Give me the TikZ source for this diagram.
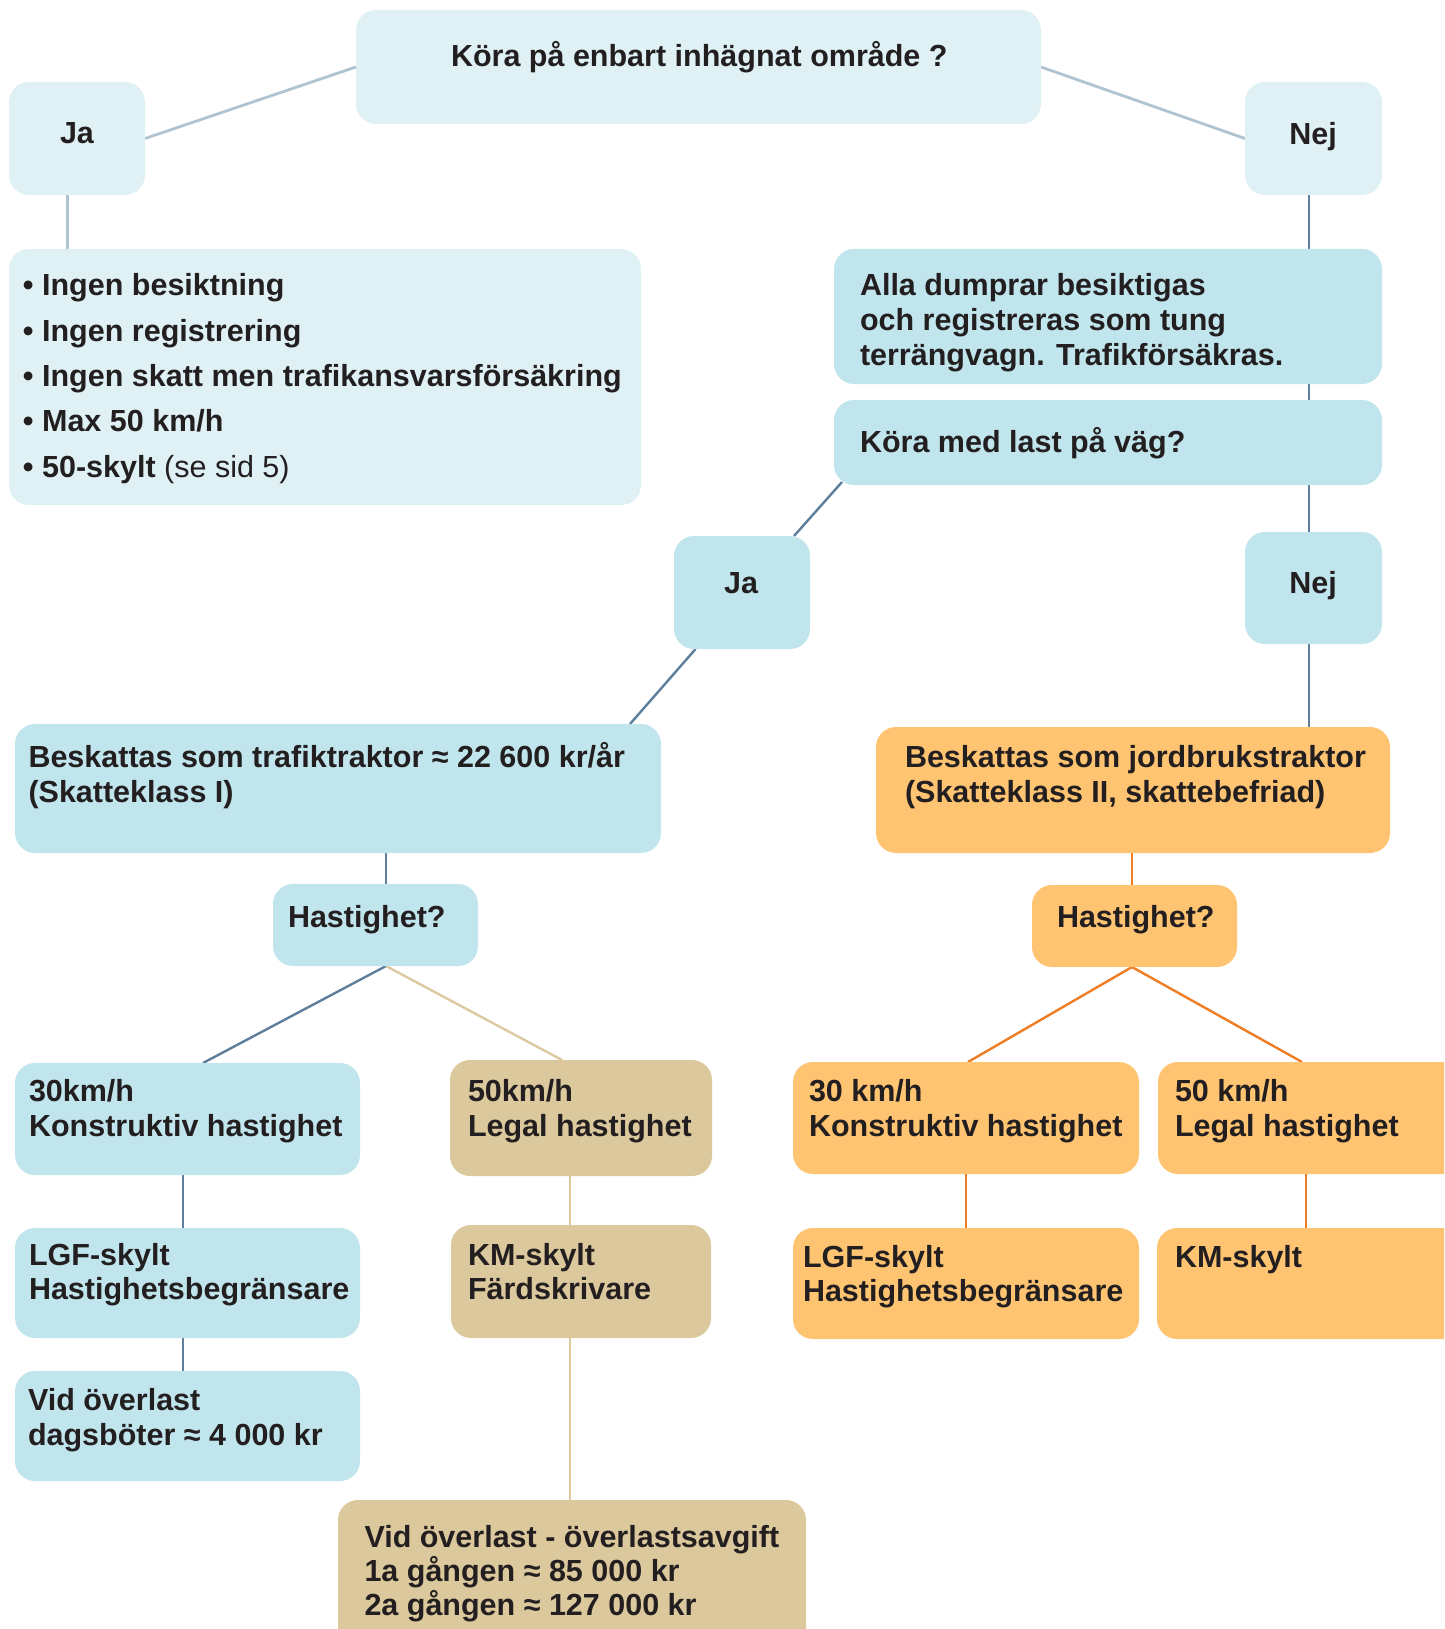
\documentclass[tikz,border=0pt]{standalone}
\usepackage{fontspec}
\setmainfont{Liberation Sans}
\usetikzlibrary{backgrounds,calc}
\definecolor{boxlight}{HTML}{DFF1F5}
\definecolor{boxmid}{HTML}{C1E5EC}
\definecolor{boxor}{HTML}{FEC472}
\definecolor{boxtan}{HTML}{DBC89C}
\definecolor{txtc}{HTML}{231F20}
\definecolor{lnlight}{HTML}{B0C3D0}
\definecolor{lnblue}{HTML}{5D7F9B}
\definecolor{lntan}{HTML}{DCC9A0}
\definecolor{lnor}{HTML}{EE7D24}
\newcommand\mybox[6]{\node[#2, minimum width={#5-#3}, minimum height={#6-#4}, anchor=north west] (#1) at (#3,#4) {};}
\begin{document}
\begin{tikzpicture}[x=1pt,y=-1pt,
  bx/.style={rounded corners=20pt, inner sep=0pt, outer sep=0pt, draw=none, rectangle},
  light/.style={bx, fill=boxlight},
  mid/.style={bx, fill=boxmid},
  orb/.style={bx, fill=boxor},
  tanb/.style={bx, fill=boxtan},
  txt/.style={anchor=base west, inner sep=0pt, outer sep=0pt, text=txtc, font=\fontsize{30.5}{37}\selectfont\bfseries},
  ctxt/.style={txt, anchor=base},
  cl/.style={draw=lnlight, line width=2.8pt},
  cb/.style={draw=lnblue, line width=2.4pt},
  ct/.style={draw=lntan, line width=2.4pt},
  co/.style={draw=lnor, line width=2.4pt}]
\useasboundingbox (0,0) rectangle (1444,1629);
\clip (0,0) rectangle (1444,1629);
% boxes
\mybox{top}{light}{356}{10}{1041}{124}
\mybox{ja1}{light}{9}{82}{145}{195}
\mybox{nej1}{light}{1245}{82}{1382}{195}
\mybox{list}{light}{9}{249}{641}{505}
\mybox{alla}{mid}{834}{249}{1382}{384}
\mybox{kml}{mid}{834}{400}{1382}{485}
\mybox{ja2}{mid}{674}{536}{810}{649}
\mybox{nej2}{mid}{1245}{532}{1382}{644}
\mybox{traf}{mid}{15}{724}{661}{853}
\mybox{jord}{orb}{876}{727}{1390}{853}
\mybox{h1}{mid}{273}{884}{478}{966}
\mybox{h2}{orb}{1032}{885}{1237}{967}
\mybox{b30}{mid}{15}{1063}{360}{1175}
\mybox{b50}{tanb}{450}{1060}{712}{1176}
\mybox{lgf1}{mid}{15}{1228}{360}{1338}
\mybox{km1}{tanb}{451}{1225}{711}{1338}
\mybox{vid1}{mid}{15}{1371}{360}{1481}
\mybox{vid2}{tanb}{338}{1500}{806}{1660}
\mybox{o30}{orb}{793}{1062}{1139}{1174}
\mybox{o50}{orb}{1158}{1062}{1470}{1174}
\mybox{olgf}{orb}{793}{1228}{1139}{1339}
\mybox{okm}{orb}{1157}{1228}{1470}{1339}
% texts
\node[txt] (ttop) at (451,67) {Köra på enbart inhägnat område ?};
\node[ctxt] (tja1) at (77,144) {Ja};
\node[ctxt] (tnej1) at (1313,145) {Nej};
\node[txt] (tl1) at (23,295) {• Ingen besiktning};
\node[txt] (tl2) at (23,341) {• Ingen registrering};
\node[txt] (tl3) at (23,386.5) {• Ingen skatt men trafikansvarsförsäkring};
\node[txt] (tl4) at (23,431.5) {• Max 50 km/h};
\node[txt] (tl5) at (23,477) {• 50-skylt {\mdseries (se sid 5)}};
\node[txt] (ta1) at (860,295) {Alla dumprar besiktigas};
\node[txt] (ta2) at (860,330) {och registreras som tung};
\node[txt] (ta3) at (860,365) {terrängvagn. Trafikförsäkras.};
\node[txt] (tkml) at (860,452) {Köra med last på väg?};
\node[ctxt] (tja2) at (741,593) {Ja};
\node[ctxt] (tnej2) at (1313,593) {Nej};
\node[txt] (ttr1) at (28.5,767) {Beskattas som trafiktraktor ≈ 22 600 kr/år};
\node[txt] (ttr2) at (28.5,802) {(Skatteklass I)};
\node[txt] (tjo1) at (905,767) {Beskattas som jordbrukstraktor};
\node[txt] (tjo2) at (905,802) {(Skatteklass II, skattebefriad)};
\node[txt] (th1) at (288,927) {Hastighet?};
\node[txt] (th2) at (1057,927) {Hastighet?};
\node[txt] (tb30a) at (29,1101.5) {30km/h};
\node[txt] (tb30b) at (29,1136) {Konstruktiv hastighet};
\node[txt] (tb50a) at (468,1101.5) {50km/h};
\node[txt] (tb50b) at (468,1136) {Legal hastighet};
\node[txt] (tlg1a) at (29,1265.5) {LGF-skylt};
\node[txt] (tlg1b) at (29,1299) {Hastighetsbegränsare};
\node[txt] (tkm1a) at (468,1265.5) {KM-skylt};
\node[txt] (tkm1b) at (468,1299) {Färdskrivare};
\node[txt] (tv1a) at (28,1410) {Vid överlast};
\node[txt] (tv1b) at (28,1445) {dagsböter ≈ 4 000 kr};
\node[txt] (tv2a) at (364.5,1547) {Vid överlast - överlastsavgift};
\node[txt] (tv2b) at (364.5,1581) {1a gången ≈ 85 000 kr};
\node[txt] (tv2c) at (364.5,1615) {2a gången ≈ 127 000 kr};
\node[txt] (to30a) at (809,1101) {30 km/h};
\node[txt] (to30b) at (809,1136) {Konstruktiv hastighet};
\node[txt] (to50a) at (1175,1101) {50 km/h};
\node[txt] (to50b) at (1175,1136) {Legal hastighet};
\node[txt] (tolga) at (803,1267) {LGF-skylt};
\node[txt] (tolgb) at (803,1301) {Hastighetsbegränsare};
\node[txt] (tokm) at (1175,1267) {KM-skylt};
% connectors
\begin{pgfonlayer}{background}
\draw[cl] (top.west) -- (ja1.east);
\draw[cl] (top.east) -- (nej1.west);
\draw[cl] (ja1.south -| 67.5,0) -- (list.north -| 67.5,0);
\draw[cb] (nej1.south -| 1309,0) -- (alla.north -| 1309,0);
\draw[cb] (alla.south -| 1309,0) -- (kml.north -| 1309,0);
\draw[cb] (kml.south -| 1309,0) -- (nej2.north -| 1309,0);
\draw[cb] (nej2.south -| 1309,0) -- (jord.north -| 1309,0);
\draw[cb] ($(kml.south west)+(8,-3)$) -- ($(ja2.north east)+(-16,0)$);
\draw[cb] ($(ja2.south west)+(21.6,0)$) -- (traf.north -| 630,0);
\draw[cb] (traf.south -| 386,0) -- (h1.north -| 386,0);
\draw[cb] (h1.south -| 386,0) -- (b30.north -| 203,0);
\draw[ct] (h1.south -| 386,0) -- (b50.north -| 562,0);
\draw[cb] (b30.south -| 183,0) -- (lgf1.north -| 183,0);
\draw[cb] (lgf1.south -| 183,0) -- (vid1.north -| 183,0);
\draw[ct] (b50.south -| 570,0) -- (km1.north -| 570,0);
\draw[ct] (km1.south -| 570,0) -- (vid2.north -| 570,0);
\draw[co] (jord.south -| 1132,0) -- (h2.north -| 1132,0);
\draw[co] (h2.south -| 1132,0) -- (o30.north -| 968,0);
\draw[co] (h2.south -| 1132,0) -- (o50.north -| 1302,0);
\draw[co] (o30.south -| 966,0) -- (olgf.north -| 966,0);
\draw[co] (o50.south -| 1306,0) -- (okm.north -| 1306,0);
\end{pgfonlayer}
\end{tikzpicture}
\end{document}
